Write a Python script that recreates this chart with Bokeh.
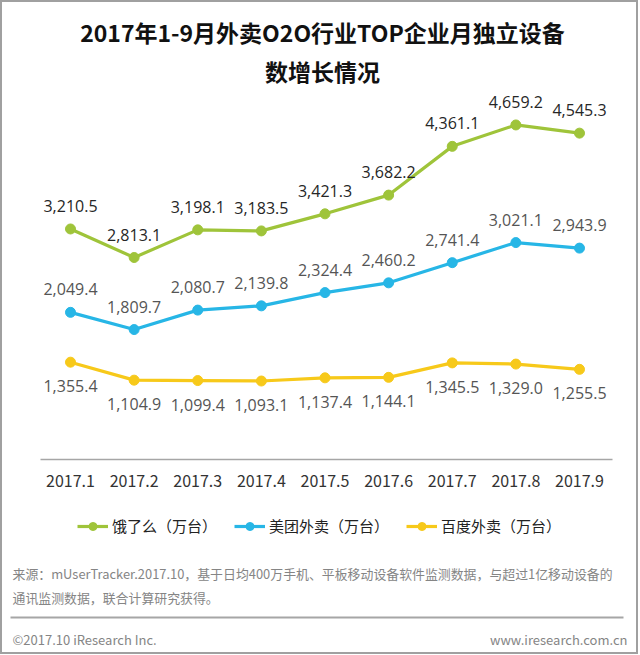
from bokeh.plotting import figure
from bokeh.layouts import column
from bokeh.models import (Range1d, FixedTicker, Label, Legend, LegendItem,
                          BoxAnnotation, ColumnDataSource)
from bokeh.core.properties import value
from bokeh.embed import file_html
from bokeh.resources import INLINE

# ---- data ----
months = ["2017.1", "2017.2", "2017.3", "2017.4", "2017.5", "2017.6", "2017.7", "2017.8", "2017.9"]
eleme = [3210.5, 2813.1, 3198.1, 3183.5, 3421.3, 3682.2, 4361.1, 4659.2, 4545.3]
meituan = [2049.4, 1809.7, 2080.7, 2139.8, 2324.4, 2460.2, 2741.4, 3021.1, 2943.9]
baidu = [1355.4, 1104.9, 1099.4, 1093.1, 1137.4, 1144.1, 1345.5, 1329.0, 1255.5]
series_names = ["饿了么（万台）", "美团外卖（万台）", "百度外卖（万台）"]
colors = ["#9fc43a", "#27b6e6", "#f7c91a"]

title_lines = ["2017年1-9月外卖O2O行业TOP企业月独立设备", "数增长情况"]
source_lines = ["来源：mUserTracker.2017.10，基于日均400万手机、平板移动设备软件监测数据，与超过1亿移动设备的",
                "通讯监测数据，联合计算研究获得。"]
footer_left = "©2017.10 iResearch Inc."
footer_right = "www.iresearch.com.cn"

CJK = "Noto Sans CJK SC"
NUM = "Open Sans"
W = 634


def blank(height, y0, y1):
    f = figure(width=W, height=height, output_backend="svg", toolbar_location=None,
               x_range=Range1d(2, 2 + W), y_range=Range1d(y1, y0),
               x_axis_location=None, y_axis_location=None, min_border=0,
               frame_align=False)
    f.outline_line_color = None
    f.grid.visible = False
    return f


# ---- header (title) ----
head = blank(88, 2, 90)
for ty, txt in zip([31, 70], title_lines):
    head.add_layout(Label(x=322, y=ty, text=txt, text_align="center", text_baseline="middle",
                          text_font=CJK, text_font_size="23px", text_font_style="bold",
                          text_color="#111111"))

# ---- main chart ----
p = figure(width=W, height=410, output_backend="svg", toolbar_location=None,
           x_range=Range1d(0.5285, 9.5187), y_range=Range1d(0, 5139),
           y_axis_location=None, min_border_left=38, min_border_right=24,
           min_border_top=0, min_border_bottom=41, frame_align=False)
p.outline_line_color = None
p.grid.visible = False

xs = list(range(1, len(months) + 1))
p.xaxis.ticker = FixedTicker(ticks=xs)
p.xaxis.major_label_overrides = {x: m for x, m in zip(xs, months)}
p.xaxis.major_tick_line_color = None
p.xaxis.minor_tick_line_color = None
p.xaxis.axis_line_color = "#a6a6a6"
p.xaxis.axis_line_width = 1.5
p.xaxis.major_label_text_font = CJK
p.xaxis.major_label_text_font_size = "16px"
p.xaxis.major_label_text_color = "#333333"
p.xaxis.major_label_standoff = 9

offsets = [-23, -23, 24]
label_colors = ["#262626", "#555555", "#555555"]
for vals, col, off, lc in zip([eleme, meituan, baidu], colors, offsets, label_colors):
    src = ColumnDataSource(dict(x=xs, y=vals, lab=[f"{v:,.1f}" for v in vals]))
    p.line("x", "y", source=src, line_color=col, line_width=3.2)
    p.scatter("x", "y", source=src, size=10, fill_color=col, line_color=col)
    p.text("x", "y", text="lab", source=src, y_offset=off, text_align="center",
           text_baseline="middle", text_font=value(NUM), text_font_size="16px",
           text_color=lc)

# ---- footer (legend, source, copyright) ----
foot = blank(152, 500, 652)
items = []
nan = float("nan")
for name, col in zip(series_names, colors):
    ln = foot.line(x=[nan], y=[nan], line_color=col, line_width=3.2)
    sc = foot.scatter(x=[nan], y=[nan], size=10, fill_color=col, line_color=col)
    items.append(LegendItem(label=name, renderers=[ln, sc]))
legend = Legend(items=items, orientation="horizontal", location=(75, 116),
                glyph_width=31, glyph_height=20, label_standoff=4, spacing=17,
                padding=0, margin=0, border_line_color=None, background_fill_alpha=0,
                label_text_font=CJK, label_text_font_size="15px", label_text_color="#222222")
foot.add_layout(legend, "center")

for ty, txt in zip([573, 597], source_lines):
    foot.add_layout(Label(x=12, y=ty, text=txt, text_align="left", text_baseline="middle",
                          text_font=CJK, text_font_size="12.9px", text_color="#858585"))
foot.add_layout(BoxAnnotation(left=10, right=623, top=616, bottom=618,
                              fill_color="#a6a6a6", fill_alpha=1, line_color=None))
foot.add_layout(Label(x=12, y=639, text=footer_left, text_align="left", text_baseline="middle",
                      text_font=CJK, text_font_size="13px", text_color="#858585"))
foot.add_layout(Label(x=627, y=639, text=footer_right, text_align="right", text_baseline="middle",
                      text_font=CJK, text_font_size="13px", text_color="#858585"))

page = column(head, p, foot, spacing=0, styles={"border": "2px solid #a0a0a0"})
open("out.html", "w").write(file_html(page, INLINE))
